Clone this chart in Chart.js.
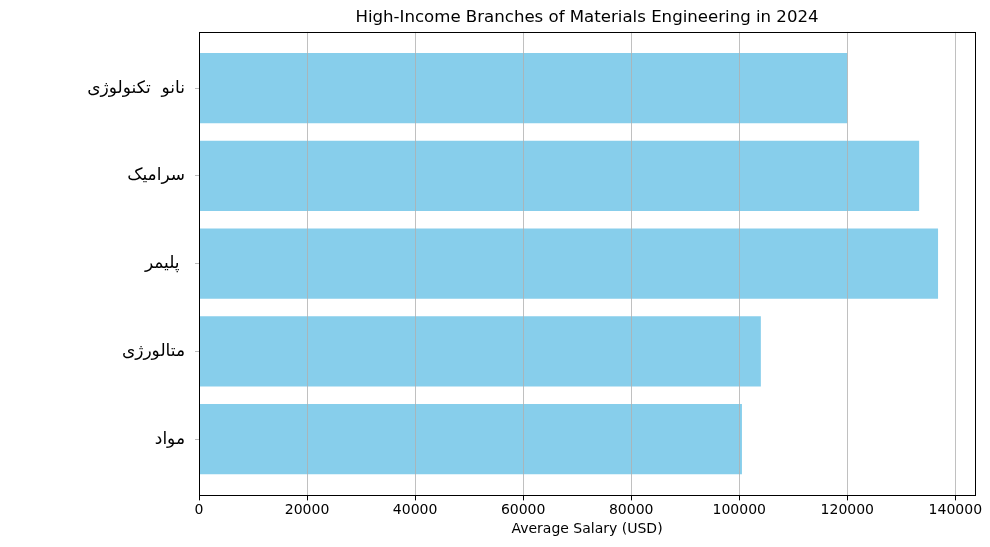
<!DOCTYPE html>
<html>
<head>
<meta charset="utf-8">
<script src="https://cdn.jsdelivr.net/npm/chart.js"></script>
<style>
  html, body { margin: 0; padding: 0; background: #fff; }
  #wrap { width: 990px; height: 547px; }
</style>
</head>
<body>
<div id="wrap"><canvas id="salaryChart"></canvas></div>
<script>
// bottom to top, as matplotlib barh lays them out
const branches = ['مواد', 'متالورژی', 'پلیمر ', 'سرامیک', 'نانو  تکنولوژی'];
const salaries = [100500, 104000, 136800, 133300, 120000];
const xTicks = [0, 20000, 40000, 60000, 80000, 100000, 120000, 140000];

const FONT = "'DejaVu Sans', sans-serif";
const xMax = Math.max(...salaries) * 1.05;

// grid over the bars + full frame like matplotlib
const frame = {
  id: 'frame',
  afterDatasetsDraw(chart) {
    const { ctx, chartArea: a, scales } = chart;
    ctx.save();
    ctx.strokeStyle = '#b0b0b0';
    ctx.lineWidth = 0.8;
    scales.x.ticks.forEach(t => {
      const px = Math.round(scales.x.getPixelForValue(t.value)) + 0.5;
      ctx.beginPath();
      ctx.moveTo(px, a.top);
      ctx.lineTo(px, a.bottom);
      ctx.stroke();
    });
    ctx.strokeStyle = '#000';
    ctx.lineWidth = 1;
    ctx.strokeRect(Math.round(a.left) + 0.5, Math.round(a.top) + 0.5,
      Math.round(a.right - a.left), Math.round(a.bottom - a.top));
    ctx.restore();
  }
};

new Chart(document.getElementById('salaryChart'), {
  type: 'bar',
  data: {
    datasets: [{
      data: branches.map((b, i) => ({ x: salaries[i], y: i })),
      backgroundColor: '#87ceeb',
      borderWidth: 0,
      barPercentage: 0.8,
      categoryPercentage: 1
    }]
  },
  options: {
    indexAxis: 'y',
    responsive: true,
    maintainAspectRatio: false,
    animation: false,
    layout: { padding: { left: 0, right: 15, top: 0, bottom: 9 } },
    plugins: {
      legend: { display: false },
      tooltip: { enabled: false },
      title: {
        display: true,
        fullSize: false,
        text: 'High-Income Branches of Materials Engineering in 2024',
        color: '#000',
        font: { family: FONT, size: 16.6, weight: 'normal' },
        padding: { top: 8, bottom: 4 }
      }
    },
    scales: {
      x: {
        type: 'linear',
        min: 0,
        max: xMax,
        afterBuildTicks: s => { s.ticks = xTicks.map(v => ({ value: v })); },
        grid: { display: true, drawOnChartArea: false, drawTicks: true, tickLength: 5, color: '#000' },
        border: { display: false },
        ticks: { color: '#000', font: { family: FONT, size: 14 }, padding: 2, maxRotation: 0, callback: v => String(v) },
        title: { display: true, text: 'Average Salary (USD)', color: '#000', font: { family: FONT, size: 14 }, padding: { top: 0, bottom: 0 } }
      },
      y: {
        type: 'linear',
        offset: false,
        min: -0.64,
        max: 4.64,
        afterBuildTicks: s => { s.ticks = branches.map((b, i) => ({ value: i })); },
        afterFit: s => { s.width = 199; },
        grid: { display: true, offset: false, drawOnChartArea: false, drawTicks: true, tickLength: 4, color: '#bbbbbb' },
        border: { display: false },
        ticks: { color: '#000', font: { family: FONT, size: 17 }, padding: 10, callback: v => branches[v] }
      }
    }
  },
  plugins: [frame]
});
</script>
</body>
</html>
